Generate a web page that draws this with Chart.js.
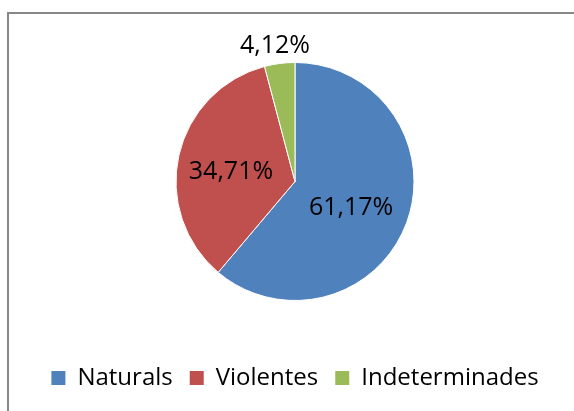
<!DOCTYPE html>
<html>
<head>
<meta charset="utf-8">
<script src="https://cdn.jsdelivr.net/npm/chart.js@4.4.1/dist/chart.umd.min.js"></script>
<style>
  html, body { margin: 0; padding: 0; background: #fff; overflow: hidden; }
  #wrap { position: relative; width: 574px; height: 411px; }
  #frame { position: absolute; left: 7px; top: 12px; width: 600px; height: 440px;
           border-left: 2px solid #878787; border-top: 2px solid #878787; box-sizing: border-box; }
  canvas { position: absolute; left: 0; top: 0; }
</style>
</head>
<body>
<div id="wrap">
  <canvas id="c" width="574" height="411"></canvas>
  <div id="frame"></div>
</div>
<script>
const categories = ['Naturals', 'Violentes', 'Indeterminades'];
const values = [61.17, 34.71, 4.12];
const colors = ['#4F81BD', '#C0504D', '#9BBB59'];

const FONT = "'Open Sans', 'Liberation Sans', sans-serif";

const pieLabels = {
  id: 'pieLabels',
  afterDatasetsDraw(chart, args, opts) {
    const ctx = chart.ctx;
    const meta = chart.getDatasetMeta(0);
    ctx.save();
    ctx.font = opts.size + 'px ' + FONT;
    ctx.fillStyle = opts.color;
    ctx.textAlign = 'center';
    ctx.textBaseline = 'middle';
    meta.data.forEach((arc, i) => {
      const p = arc.getProps(['x', 'y', 'startAngle', 'endAngle', 'outerRadius'], true);
      const place = opts.place[i];
      const mid = (p.startAngle + p.endAngle) / 2 + place.da * Math.PI / 180;
      const r = p.outerRadius * place.r;
      const v = chart.data.datasets[0].data[i];
      const txt = v.toFixed(2).replace('.', ',') + '%';
      ctx.fillText(txt, p.x + Math.cos(mid) * r, p.y + Math.sin(mid) * r);
    });
    ctx.restore();
  }
};

const defaultLabels = Chart.PieController.overrides.plugins.legend.labels.generateLabels;

new Chart(document.getElementById('c'), {
  type: 'pie',
  data: {
    labels: categories,
    datasets: [{
      data: values,
      backgroundColor: colors,
      borderColor: '#ffffff',
      borderWidth: 1,
      hoverOffset: 0,
      radius: 119
    }]
  },
  options: {
    responsive: false,
    animation: false,
    events: [],
    layout: { padding: { top: 14, left: 24, right: 8, bottom: 11 } },
    plugins: {
      tooltip: { enabled: false },
      legend: {
        position: 'bottom',
        labels: {
          boxWidth: 14,
          boxHeight: 14,
          padding: 17,
          color: '#000',
          font: { size: 24, family: FONT },
          generateLabels(chart) {
            return defaultLabels(chart).map(l => Object.assign(l, { lineWidth: 0, strokeStyle: 'rgba(0,0,0,0)' }));
          }
        }
      },
      pieLabels: {
        size: 25,
        color: '#000',
        place: [ { r: 0.52, da: 5 }, { r: 0.544, da: -4.3 }, { r: 1.151, da: -1 } ]
      }
    }
  },
  plugins: [pieLabels]
});
</script>
</body>
</html>
